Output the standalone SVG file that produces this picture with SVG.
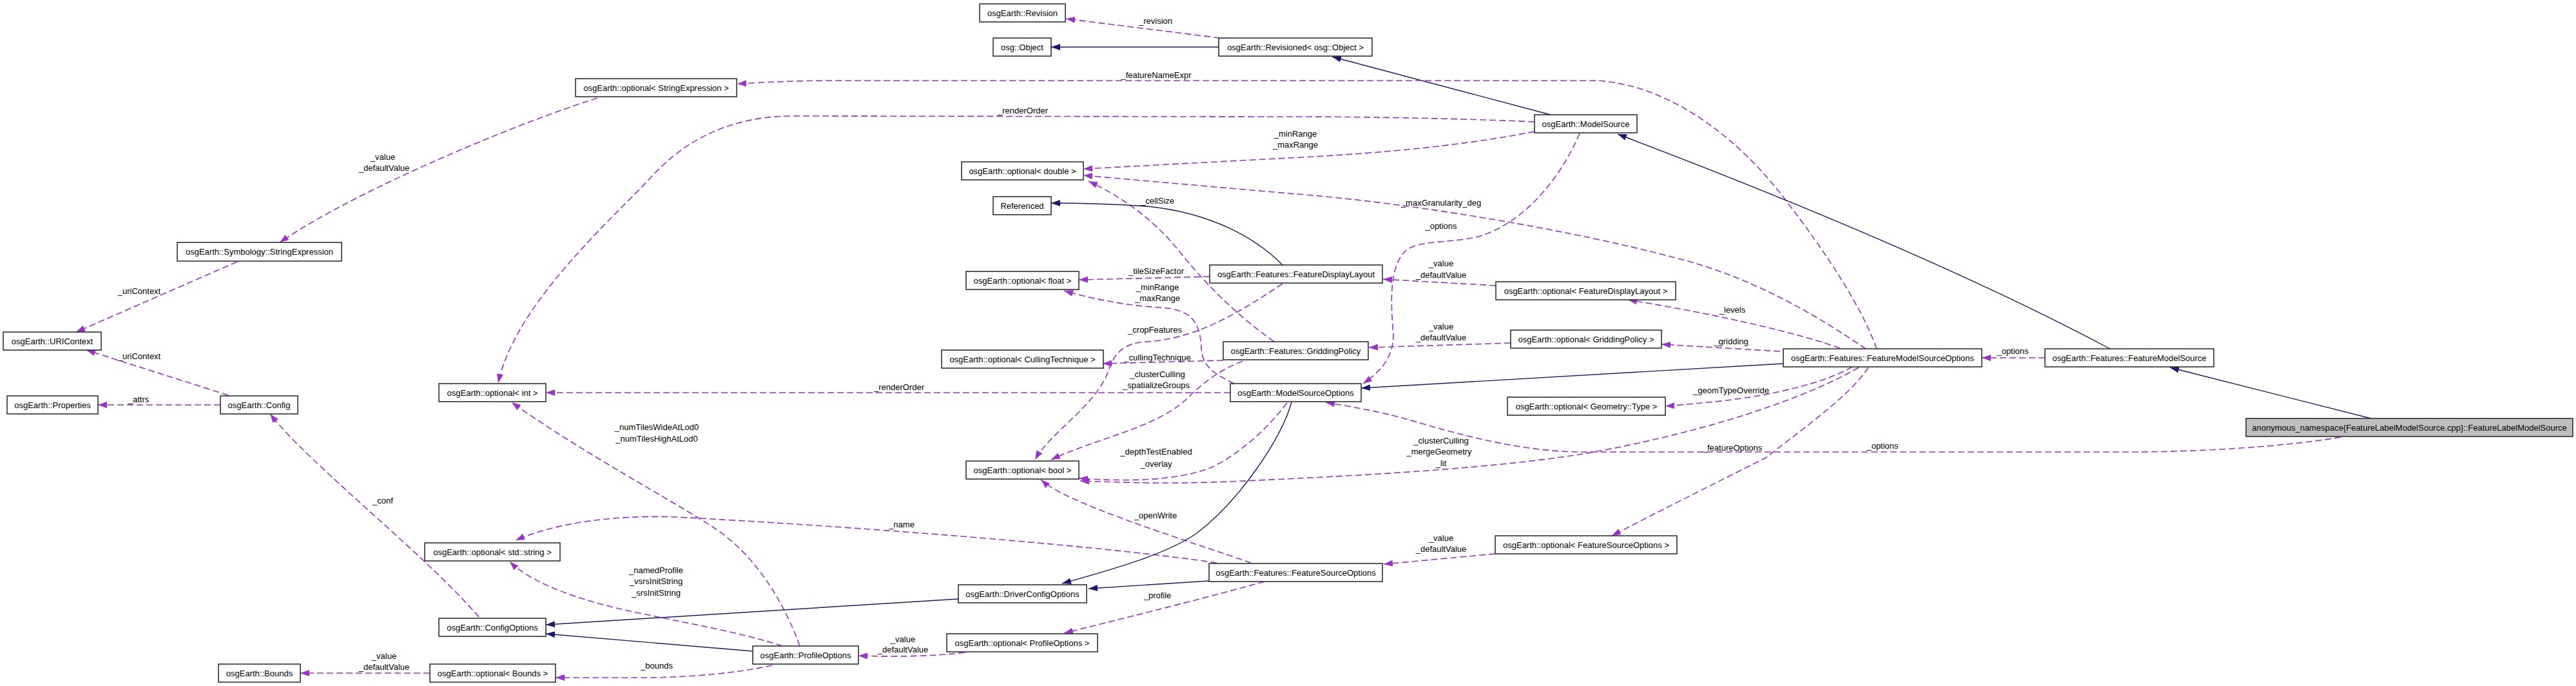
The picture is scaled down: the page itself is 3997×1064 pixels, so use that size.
<svg xmlns="http://www.w3.org/2000/svg" width="3997" height="1064" viewBox="0 0 3997 1064">
<style>
text{font-family:"Liberation Sans",Arial,Helvetica,sans-serif;font-size:13px;fill:#000}
.n rect{fill:#fff;stroke:#222;stroke-width:1.5}
.n text{text-anchor:middle}
.g rect{fill:#bfbfbf}
.i{fill:none;stroke:#191970;stroke-width:1.4;marker-end:url(#ab)}
.u{fill:none;stroke:#9a32cd;stroke-width:1.6;stroke-dasharray:10,5;marker-end:url(#ap)}
.l{text-anchor:middle}
</style>
<defs>
<marker id="ab" markerUnits="userSpaceOnUse" viewBox="0 0 14 10" markerWidth="14" markerHeight="10" refX="14" refY="5" orient="auto"><path d="M0,0 L14,5 L0,10 z" fill="#191970"/></marker>
<marker id="ap" markerUnits="userSpaceOnUse" viewBox="0 0 14 10" markerWidth="14" markerHeight="10" refX="14" refY="5" orient="auto"><path d="M0,0 L14,5 L0,10 z" fill="#9a32cd"/></marker>
</defs>
<rect width="3997" height="1064" fill="#fff"/>
<g id="connectors">
<path class="u" d="M1893,59 L1654,29"/><text class="l" x="1793" y="37">_revision</text>
<path class="i" d="M1891,73 L1631,73"/>
<path class="i" d="M2406,178 L2067,88"/>
<path class="u" d="M2912,541 C2890,480 2840,400 2765,303 C2700,220 2620,160 2540,136 C2510,128 2490,125 2470,125 L1300,125 C1230,125 1180,128 1144,130"/><text class="l" x="1794" y="121">_featureNameExpr</text>
<path class="u" d="M927,152 C820,185 560,290 434,376"/><text class="l" x="594" y="248">_value</text><text class="l" x="596" y="265">_defaultValue</text>
<path class="u" d="M368,406 L118,515"/><text class="l" x="216" y="456">_uriContext</text>
<path class="u" d="M354,613 L134,543"/><text class="l" x="216" y="557">_uriContext</text>
<path class="u" d="M342,628 L152,628"/><text class="l" x="215" y="624">_attrs</text>
<path class="u" d="M743,957 C660,860 480,720 419,642"/><text class="l" x="594" y="781">_conf</text>
<path class="u" d="M2381,189 C2250,183 2100,181 2000,181 L1230,180 C1130,180 1060,220 1010,275 C950,340 800,470 773,594"/><text class="l" x="1587" y="176">_renderOrder</text>
<path class="u" d="M2381,204 C2250,230 2100,240 2000,245 L1681,262"/><text class="l" x="2010" y="212">_minRange</text><text class="l" x="2010" y="229">_maxRange</text>
<path class="u" d="M2895,541 C2820,490 2720,430 2600,400 C2450,360 2200,315 2000,300 L1681,272"/><text class="l" x="2236" y="319">_maxGranularity_deg</text>
<path class="u" d="M1977,530 C1920,490 1870,440 1830,390 C1790,340 1740,305 1689,281"/><text class="l" x="1796" y="316">_cellSize</text>
<path class="u" d="M1915,595 C1885,580 1866,570 1864,540 C1862,500 1850,480 1800,477 C1750,474 1700,465 1651,451"/><text class="l" x="1796" y="450">_minRange</text><text class="l" x="1796" y="467">_maxRange</text>
<path class="u" d="M1877,429 L1674,434"/><text class="l" x="1794" y="425">_tileSizeFactor</text>
<path class="i" d="M1990,411 C1950,370 1880,330 1780,320 C1720,316 1680,315 1631,315"/>
<path class="u" d="M1990,440 C1930,480 1860,525 1780,530 C1745,532 1730,545 1720,575 C1700,630 1630,670 1606,713"/><text class="l" x="1792" y="516">_cropFeatures</text>
<path class="u" d="M1898,559 L1711,564"/><text class="l" x="1796" y="559">_cullingTechnique</text>
<path class="u" d="M1928,560 C1890,575 1865,595 1840,620 C1790,665 1700,680 1631,713"/><text class="l" x="1796" y="585">_clusterCulling</text><text class="l" x="1794" y="602">_spatializeGroups</text>
<path class="u" d="M1909,609 L847,609"/><text class="l" x="1395" y="605">_renderOrder</text>
<path class="u" d="M1997,625 C1970,660 1930,700 1880,725 C1820,748 1740,746 1674,742"/><text class="l" x="1794" y="705">_depthTestEnabled</text><text class="l" x="1794" y="724">_overlay</text>
<path class="u" d="M2884,570 C2780,630 2600,680 2450,705 C2300,728 2100,738 1950,745 C1820,752 1740,748 1676,746"/><text class="l" x="2236" y="688">_clusterCulling</text><text class="l" x="2233" y="705">_mergeGeometry</text><text class="l" x="2236" y="723">_lit</text>
<path class="u" d="M1941,873 C1860,845 1750,810 1680,780 C1650,767 1630,757 1615,744"/><text class="l" x="1793" y="804">_openWrite</text>
<path class="u" d="M1888,873 C1700,845 1300,815 1050,802 C950,798 860,812 800,838"/><text class="l" x="1399" y="818">_name</text>
<path class="u" d="M1214,1002 C1150,980 1020,958 960,944 C880,925 820,900 791,871"/><text class="l" x="1018" y="889">_namedProfile</text><text class="l" x="1018" y="906">_vsrsInitString</text><text class="l" x="1018" y="924">_srsInitString</text>
<path class="u" d="M1241,1002 C1215,930 1170,860 1110,820 C1050,780 900,700 794,624"/><text class="l" x="1019" y="667">_numTilesWideAtLod0</text><text class="l" x="1019" y="685">_numTilesHighAtLod0</text>
<path class="u" d="M1198,1032 C1140,1045 1060,1051 1000,1051 L862,1051"/><text class="l" x="1019" y="1037">_bounds</text>
<path class="u" d="M667,1044 L466,1044"/><text class="l" x="596" y="1022">_value</text><text class="l" x="596" y="1039">_defaultValue</text>
<path class="i" d="M1168,1010 L847,983"/>
<path class="i" d="M1487,929 L847,969"/>
<path class="i" d="M2004,624 C1988,680 1925,775 1857,827 C1810,860 1720,885 1648,905"/>
<path class="i" d="M1876,901 L1689,913"/>
<path class="u" d="M1962,902 C1880,925 1760,955 1651,982"/><text class="l" x="1796" y="928">_profile</text>
<path class="u" d="M1497,1012 C1450,1018 1390,1019 1332,1017"/><text class="l" x="1401" y="996">_value</text><text class="l" x="1401" y="1012">_defaultValue</text>
<path class="u" d="M2320,859 L2147,875"/><text class="l" x="2236" y="839">_value</text><text class="l" x="2236" y="856">_defaultValue</text>
<path class="u" d="M2899,570 C2870,615 2790,670 2740,710 C2660,750 2580,790 2501,831"/><text class="l" x="2688" y="699">_featureOptions</text>
<path class="u" d="M2874,569 C2820,600 2720,618 2650,624 C2620,627 2600,629 2584,630"/><text class="l" x="2686" y="610">_geomTypeOverride</text>
<path class="u" d="M2762,545 L2578,534"/><text class="l" x="2686" y="534">_gridding</text>
<path class="u" d="M2855,540 C2800,520 2680,490 2526,465"/><text class="l" x="2688" y="485">_levels</text>
<path class="i" d="M2767,564 L2112,602"/>
<path class="u" d="M2321,443 L2146,433"/><text class="l" x="2236" y="413">_value</text><text class="l" x="2236" y="431">_defaultValue</text>
<path class="u" d="M2344,532 L2124,539"/><text class="l" x="2236" y="511">_value</text><text class="l" x="2236" y="528">_defaultValue</text>
<path class="u" d="M2451,207 C2420,280 2360,350 2290,368 C2240,378 2200,372 2180,390 C2155,415 2158,470 2162,520 C2162,555 2140,578 2115,595"/><text class="l" x="2236" y="355">_options</text>
<path class="u" d="M3173,555 L3075,555"/><text class="l" x="3123" y="549">_options</text>
<path class="i" d="M3274,541 Q2990,390 2510,208"/>
<path class="i" d="M3679,649 L3367,570"/>
<path class="u" d="M3632,678 C3550,692 3420,701 3300,701 L2450,701 C2380,700 2300,685 2200,655 C2140,637 2090,630 2057,624"/><text class="l" x="2921" y="696">_options</text>
</g>
<g id="n_revision" class="n"><rect x="1520" y="6" width="133" height="28"/><text x="1586.5" y="25">osgEarth::Revision</text></g>
<g id="n_object" class="n"><rect x="1541" y="59" width="90" height="28"/><text x="1586" y="78">osg::Object</text></g>
<g id="n_revisioned" class="n"><rect x="1891" y="59" width="238" height="28"/><text x="2010" y="78">osgEarth::Revisioned&lt; osg::Object &gt;</text></g>
<g id="n_optstrexpr" class="n"><rect x="893" y="122" width="250" height="28"/><text x="1018" y="141">osgEarth::optional&lt; StringExpression &gt;</text></g>
<g id="n_modelsource" class="n"><rect x="2381" y="178" width="159" height="28"/><text x="2460.5" y="197">osgEarth::ModelSource</text></g>
<g id="n_optdouble" class="n"><rect x="1492" y="251" width="189" height="28"/><text x="1586.5" y="270">osgEarth::optional&lt; double &gt;</text></g>
<g id="n_referenced" class="n"><rect x="1541" y="305" width="90" height="28"/><text x="1586" y="324">Referenced</text></g>
<g id="n_strexpr" class="n"><rect x="275" y="376" width="255" height="29"/><text x="402.5" y="395">osgEarth::Symbology::StringExpression</text></g>
<g id="n_fdl" class="n"><rect x="1877" y="411" width="268" height="28"/><text x="2011" y="430">osgEarth::Features::FeatureDisplayLayout</text></g>
<g id="n_optfloat" class="n"><rect x="1499" y="421" width="175" height="28"/><text x="1586.5" y="440">osgEarth::optional&lt; float &gt;</text></g>
<g id="n_optfdl" class="n"><rect x="2321" y="437" width="279" height="28"/><text x="2460.5" y="456">osgEarth::optional&lt; FeatureDisplayLayout &gt;</text></g>
<g id="n_uricontext" class="n"><rect x="5" y="515" width="152" height="28"/><text x="81" y="534">osgEarth::URIContext</text></g>
<g id="n_optgp" class="n"><rect x="2344" y="512" width="234" height="28"/><text x="2461" y="531">osgEarth::optional&lt; GriddingPolicy &gt;</text></g>
<g id="n_gp" class="n"><rect x="1898" y="530" width="225" height="28"/><text x="2010.5" y="549">osgEarth::Features::GriddingPolicy</text></g>
<g id="n_fmso" class="n"><rect x="2767" y="541" width="308" height="28"/><text x="2921" y="560">osgEarth::Features::FeatureModelSourceOptions</text></g>
<g id="n_fms" class="n"><rect x="3173" y="541" width="262" height="28"/><text x="3304" y="560">osgEarth::Features::FeatureModelSource</text></g>
<g id="n_optcull" class="n"><rect x="1461" y="543" width="251" height="28"/><text x="1586.5" y="562">osgEarth::optional&lt; CullingTechnique &gt;</text></g>
<g id="n_optint" class="n"><rect x="681" y="595" width="166" height="28"/><text x="764" y="614">osgEarth::optional&lt; int &gt;</text></g>
<g id="n_mso" class="n"><rect x="1909" y="595" width="203" height="28"/><text x="2010.5" y="614">osgEarth::ModelSourceOptions</text></g>
<g id="n_properties" class="n"><rect x="11" y="614" width="141" height="28"/><text x="81.5" y="633">osgEarth::Properties</text></g>
<g id="n_config" class="n"><rect x="342" y="614" width="120" height="28"/><text x="402" y="633">osgEarth::Config</text></g>
<g id="n_optgeom" class="n"><rect x="2339" y="616" width="245" height="28"/><text x="2461.5" y="635">osgEarth::optional&lt; Geometry::Type &gt;</text></g>
<g id="n_anon" class="n g"><rect x="3485" y="649" width="507" height="28"/><text x="3738.5" y="668">anonymous_namespace{FeatureLabelModelSource.cpp}::FeatureLabelModelSource</text></g>
<g id="n_optbool" class="n"><rect x="1499" y="715" width="175" height="28"/><text x="1586.5" y="734">osgEarth::optional&lt; bool &gt;</text></g>
<g id="n_optfso" class="n"><rect x="2320" y="831" width="282" height="28"/><text x="2461" y="850">osgEarth::optional&lt; FeatureSourceOptions &gt;</text></g>
<g id="n_optstring" class="n"><rect x="659" y="842" width="210" height="28"/><text x="764" y="861">osgEarth::optional&lt; std::string &gt;</text></g>
<g id="n_fso" class="n"><rect x="1876" y="874" width="269" height="28"/><text x="2010.5" y="893">osgEarth::Features::FeatureSourceOptions</text></g>
<g id="n_dco" class="n"><rect x="1487" y="907" width="199" height="28"/><text x="1586.5" y="926">osgEarth::DriverConfigOptions</text></g>
<g id="n_configopts" class="n"><rect x="681" y="959" width="166" height="28"/><text x="764" y="978">osgEarth::ConfigOptions</text></g>
<g id="n_optprofile" class="n"><rect x="1469" y="983" width="234" height="28"/><text x="1586" y="1002">osgEarth::optional&lt; ProfileOptions &gt;</text></g>
<g id="n_profileopts" class="n"><rect x="1168" y="1002" width="164" height="28"/><text x="1250" y="1021">osgEarth::ProfileOptions</text></g>
<g id="n_bounds" class="n"><rect x="339" y="1030" width="127" height="28"/><text x="402.5" y="1049">osgEarth::Bounds</text></g>
<g id="n_optbounds" class="n"><rect x="667" y="1030" width="195" height="28"/><text x="764.5" y="1049">osgEarth::optional&lt; Bounds &gt;</text></g>
</svg>
